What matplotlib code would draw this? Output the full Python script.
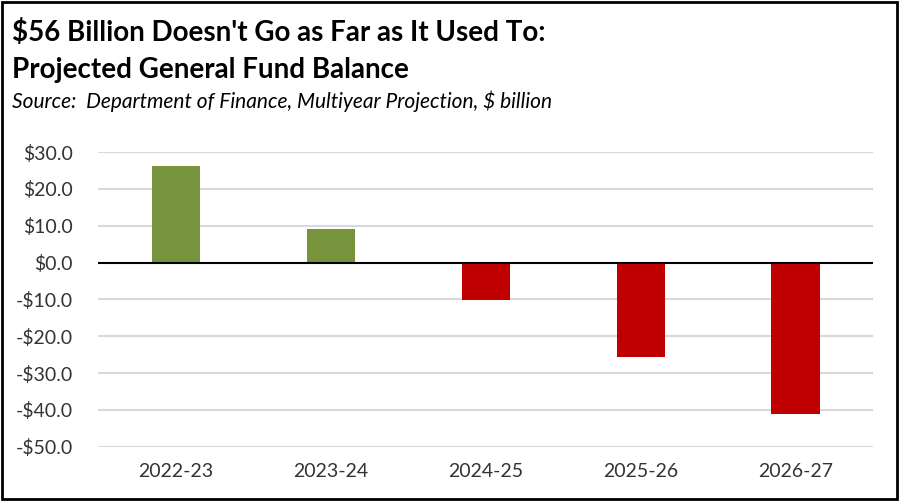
import matplotlib.pyplot as plt
from matplotlib.patches import Rectangle

years = ["2022-23", "2023-24", "2024-25", "2025-26", "2026-27"]
balance = [26.3, 9.0, -10.2, -25.7, -41.1]

green = "#77933C"
red = "#C00000"
colors = [green if v >= 0 else red for v in balance]

plt.rcParams['font.family'] = ['Lato', 'DejaVu Sans']

fig = plt.figure(figsize=(9, 5.01), dpi=100)
ax = fig.add_axes([0.109, 0.1084, 0.861, 0.588])

x = list(range(len(years)))
ax.bar(x, balance, width=0.31, color=colors, zorder=3)

ax.set_xlim(-0.5, 4.5)
ax.set_ylim(-50, 30)
ticks = list(range(-50, 31, 10))
ax.set_yticks(ticks)
ax.set_yticklabels([("-$%.1f" % abs(t)) if t < 0 else ("$%.1f" % t) for t in ticks])
ax.set_xticks(x)
ax.set_xticklabels(years)
ax.tick_params(axis='both', length=0, labelsize=14, colors="#333333")
ax.tick_params(axis='x', pad=12)
ax.tick_params(axis='y', pad=18)

for t in ticks:
    if t != 0:
        ax.axhline(t, color="#d9d9d9", linewidth=1.5, zorder=1)
ax.axhline(0, color="black", linewidth=1.5, zorder=4)

for s in ax.spines.values():
    s.set_visible(False)

fig.text(0.013, 0.935, "$56 Billion Doesn't Go as Far as It Used To:",
         fontsize=20, fontweight='bold', va='center', ha='left')
fig.text(0.013, 0.860, "Projected General Fund Balance",
         fontsize=20, fontweight='bold', va='center', ha='left')
fig.text(0.013, 0.797, "Source:  Department of Finance, Multiyear Projection, $ billion",
         fontsize=15, style='italic', va='center', ha='left')

fig.patches.append(Rectangle((0.002, 0.004), 0.995, 0.992, transform=fig.transFigure,
                             fill=False, edgecolor="black", linewidth=2))

fig.savefig("out.png", dpi=100)
